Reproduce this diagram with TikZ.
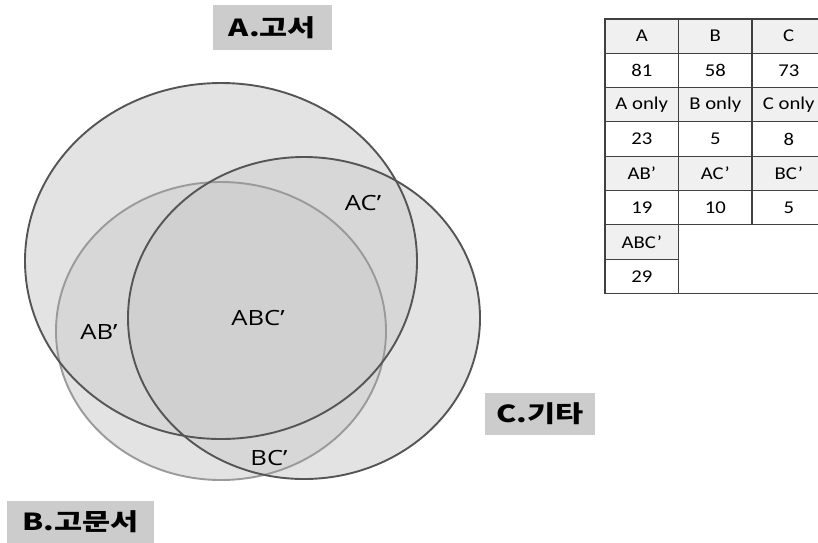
\documentclass[tikz,border=0pt]{standalone}
\usepackage{fontspec}
\newfontfamily\krfont[FakeStretch=1.3]{Noto Sans CJK KR}
\newfontfamily\vennfont[FakeStretch=1.22]{Open Sans}
\newfontfamily\tabfont[FakeStretch=1.15]{Carlito}
\definecolor{one}{HTML}{E3E3E3}
\definecolor{two}{HTML}{D7D7D7}
\definecolor{three}{HTML}{D0D0D0}
\definecolor{rimdark}{HTML}{555555}
\definecolor{rimlight}{HTML}{9A9A9A}
\definecolor{headgray}{HTML}{F0F0F0}
\definecolor{tagbox}{HTML}{CCCCCC}
\tikzset{
    setlabel/.style={font=\krfont\bfseries\fontsize{23.5}{26}\selectfont, fill=tagbox, inner sep=0pt},
    regionlabel/.style={font=\vennfont\fontsize{21}{24}\selectfont, inner sep=1pt},
    cell/.style={draw=black!75, line width=1.1pt, minimum width=73.5pt, minimum height=34.3pt,
        inner sep=0pt, font=\tabfont\fontsize{18}{20}\selectfont},
    headcell/.style={cell, fill=headgray},
    valcell/.style={cell, fill=white}
}
\def\setA{(221,261) ellipse [x radius=196pt, y radius=178pt]}
\def\setB{(221,331) ellipse [x radius=165pt, y radius=149pt]}
\def\setC{(304,318) ellipse [x radius=176pt, y radius=161pt]}
\begin{document}
\begin{tikzpicture}[x=1pt, y=-1pt]
    \useasboundingbox (0,0) rectangle (818,542);
    \clip (0,0) rectangle (818,542);
    % Set areas
    \fill[one] \setA;
    \fill[one] \setB;
    \fill[one] \setC;
    \begin{scope}
        \clip \setA;
        \fill[two] \setB;
        \fill[two] \setC;
    \end{scope}
    \begin{scope}
        \clip \setB;
        \fill[two] \setC;
    \end{scope}
    \begin{scope}
        \clip \setA;
        \clip \setB;
        \fill[three] \setC;
    \end{scope}
    % Outlines
    \draw[rimlight, line width=1.9pt] \setB;
    \draw[rimdark, line width=1.9pt] \setA;
    \draw[rimdark, line width=1.9pt] \setC;
    % Region labels
    \node[regionlabel] (AC) at (363,203) {AC’};
    \node[regionlabel] (ABC) at (258,318) {ABC’};
    \node[regionlabel] (AB) at (99,332) {AB’};
    \node[regionlabel] (BC) at (269,458) {BC’};
    % Set names
    \node[setlabel, minimum width=119pt, minimum height=45pt] (nameA) at (272.5,27.5) {A.고서};
    \node[setlabel, minimum width=110pt, minimum height=42pt] (nameC) at (540,414) {C.기타};
    \node[setlabel, minimum width=147pt, minimum height=42pt] (nameB) at (80.5,522) {B.고문서};
    % Table
    \foreach \r/\a/\b/\c in {1/A/B/C, 3/A only/B only/C only, 5/AB’/AC’/BC’} {
        \foreach \j/\t in {1/\a, 2/\b, 3/\c} {
            \node[headcell] (T-\r-\j) at (641.75+73.5*\j-73.5, 1.85+34.3*\r) {\t};
        }
    }
    \foreach \r/\a/\b/\c in {2/81/58/73, 4/23/5/8, 6/19/10/5} {
        \foreach \j/\t in {1/\a, 2/\b, 3/\c} {
            \node[valcell] (T-\r-\j) at (641.75+73.5*\j-73.5, 1.85+34.3*\r) {\t};
        }
    }
    \node[headcell] (T-7-1) at (641.75, 1.85+34.3*7) {ABC’};
    \node[valcell] (T-8-1) at (641.75, 1.85+34.3*8) {29};
    \node[cell, minimum width=147pt, minimum height=68.6pt] (T-blank) at (752.25, 258.85) {};
\end{tikzpicture}
\end{document}
